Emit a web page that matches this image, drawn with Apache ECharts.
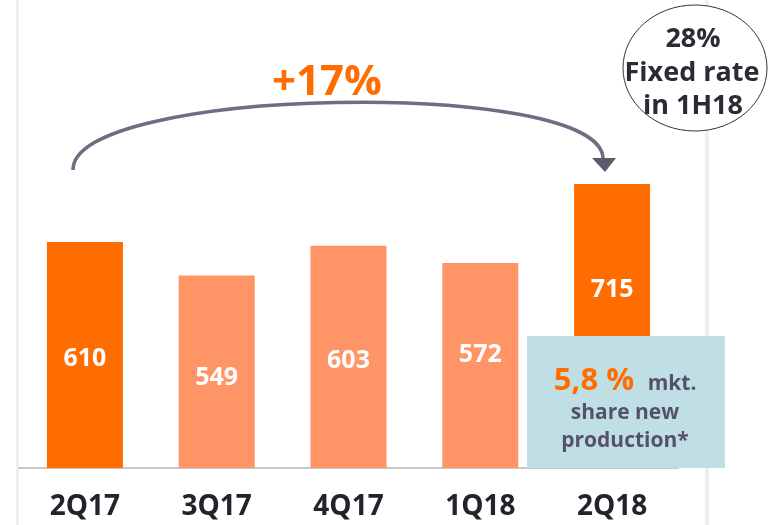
<!DOCTYPE html>
<html>
<head>
<meta charset="utf-8">
<script src="https://cdn.jsdelivr.net/npm/echarts@6/dist/echarts.min.js"></script>
<style>
  html, body { margin: 0; padding: 0; background: #fff; }
  #chart { width: 769px; height: 525px; }
</style>
</head>
<body>
<div id="chart"></div>
<script>
// Quarterly volumes
const quarters = ['2Q17', '3Q17', '4Q17', '1Q18', '2Q18'];
const volumes = [610, 549, 603, 572, 715];
// Year-on-year quarters highlighted in the dark tone
const highlighted = [true, false, false, false, true];

const DARK = '#ff6d00';
const LIGHT = '#ff9466';
const FONT = '"Open Sans", "Noto Sans", sans-serif';

// Small per-bar label adjustments (px)
const labelShift = [[0, 4], [0, 6], [0, 4], [0, -11], [0, -36]];

const chart = echarts.init(document.getElementById('chart'));

const barData = volumes.map((v, i) => ({
  value: v,
  itemStyle: { color: highlighted[i] ? DARK : LIGHT },
  label: { offset: labelShift[i] }
}));

chart.setOption({
  animation: false,
  grid: { left: 19, right: 91, top: 27, bottom: 57 },
  xAxis: {
    type: 'category',
    data: quarters,
    axisLine: { lineStyle: { color: '#c8c8c8', width: 2 } },
    axisTick: { show: false },
    axisLabel: {
      color: '#23232b', fontSize: 28, fontWeight: 'bold',
      fontFamily: FONT, margin: 25
    }
  },
  yAxis: {
    type: 'value', min: 200, max: 1000,
    show: false, splitLine: { show: false }
  },
  series: [{
    type: 'bar',
    data: barData,
    barWidth: 76,
    label: {
      show: true, position: 'inside', color: '#fff',
      fontSize: 25, fontWeight: 'bold', fontFamily: FONT
    }
  }],
  graphic: [
    // faint page edges
    { type: 'rect', shape: { x: 16, y: 0, width: 3, height: 525 },
      style: { fill: '#f1f1f1' }, z: -1 },
    { type: 'rect', shape: { x: 705, y: 0, width: 4, height: 525 },
      style: { fill: '#eeeeee' }, z: -1 },
    // growth arc and arrowhead
    { type: 'bezierCurve',
      shape: { x1: 73, y1: 170, cpx1: 72, cpy1: 86, cpx2: 600, cpy2: 78, x2: 603, y2: 158 },
      style: { stroke: '#6f6c84', lineWidth: 3.5, fill: null }, z: 10 },
    { type: 'polygon',
      shape: { points: [[592, 158], [616, 158], [605, 172]] },
      style: { fill: '#5d5a70' }, z: 10 },
    { type: 'text', x: 327, y: 83,
      style: { text: '+17%', fill: DARK, font: 'bold 42px ' + FONT,
               textAlign: 'center', textVerticalAlign: 'middle' }, z: 10 },
    // fixed rate bubble
    { type: 'ellipse', shape: { cx: 695, cy: 68, rx: 72, ry: 63 },
      style: { fill: '#fff', stroke: '#333', lineWidth: 1 }, z: 10 },
    { type: 'text', x: 693, y: 39,
      style: { text: '28%', fill: '#2b2b33', font: 'bold 27px ' + FONT,
               textAlign: 'center', textVerticalAlign: 'middle' }, z: 11 },
    { type: 'text', x: 692, y: 73,
      style: { text: 'Fixed rate', fill: '#2b2b33', font: 'bold 27px ' + FONT,
               textAlign: 'center', textVerticalAlign: 'middle' }, z: 11 },
    { type: 'text', x: 693, y: 106,
      style: { text: 'in 1H18', fill: '#2b2b33', font: 'bold 27px ' + FONT,
               textAlign: 'center', textVerticalAlign: 'middle' }, z: 11 },
    // market share box
    { type: 'rect', shape: { x: 527, y: 336, width: 198, height: 132 },
      style: { fill: '#c0dfe4' }, z: 10 },
    { type: 'text', x: 594, y: 381,
      style: { text: '5,8 %', fill: DARK, font: 'bold 31px ' + FONT,
               textAlign: 'center', textVerticalAlign: 'middle' }, z: 11 },
    { type: 'text', x: 672, y: 384,
      style: { text: 'mkt.', fill: '#55516a', font: 'bold 21px ' + FONT,
               textAlign: 'center', textVerticalAlign: 'middle' }, z: 11 },
    { type: 'text', x: 625, y: 413,
      style: { text: 'share new', fill: '#55516a', font: 'bold 21px ' + FONT,
               textAlign: 'center', textVerticalAlign: 'middle' }, z: 11 },
    { type: 'text', x: 625, y: 441,
      style: { text: 'production*', fill: '#55516a', font: 'bold 21px ' + FONT,
               textAlign: 'center', textVerticalAlign: 'middle' }, z: 11 }
  ]
});
</script>
</body>
</html>
